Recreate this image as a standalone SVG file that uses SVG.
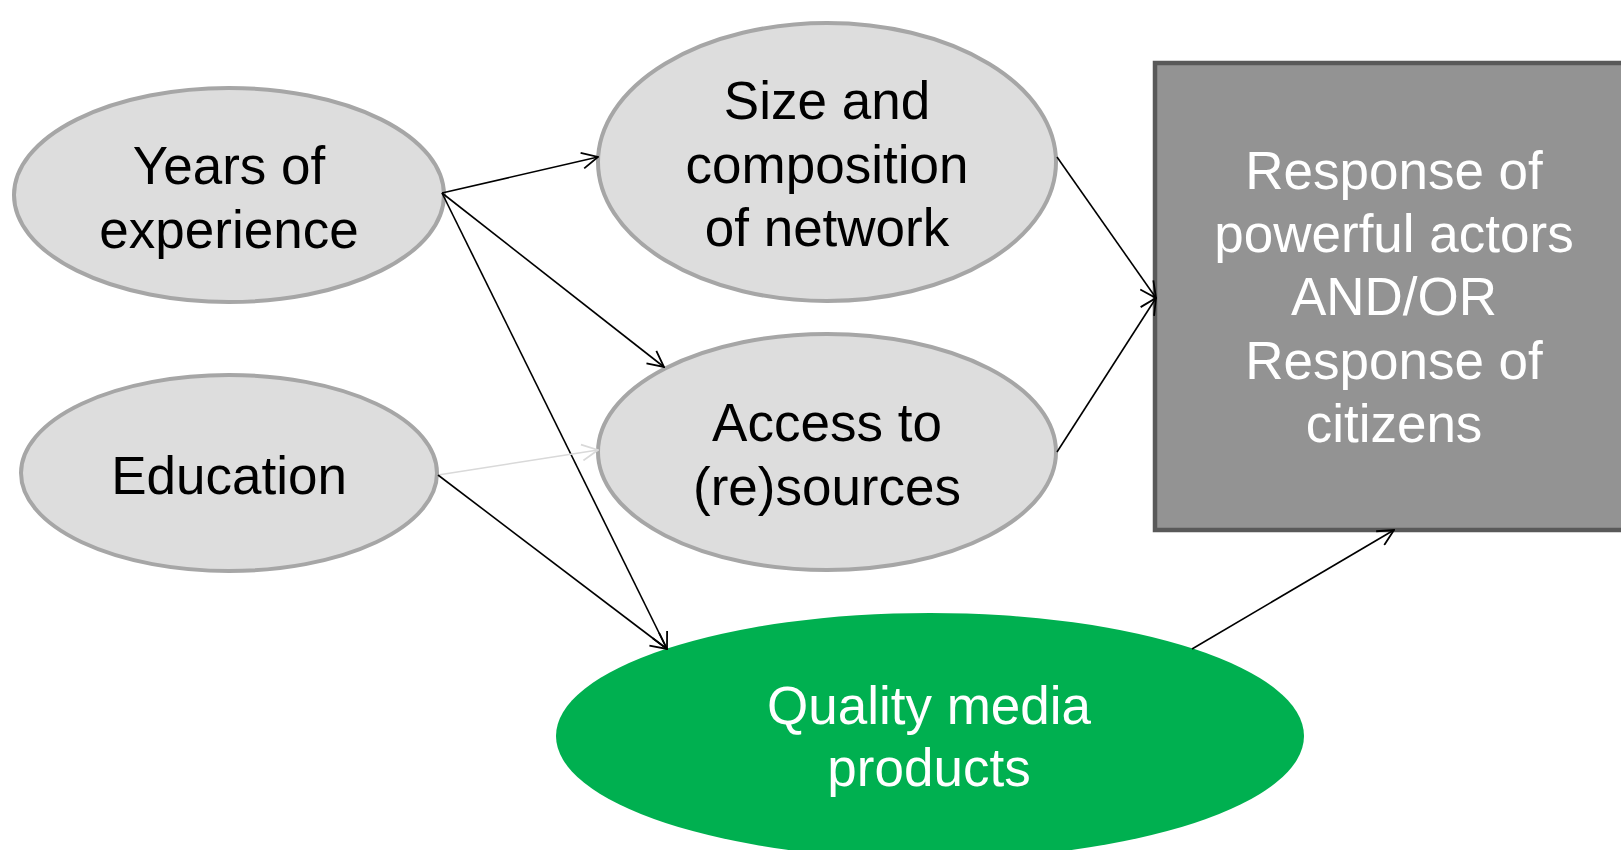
<svg xmlns="http://www.w3.org/2000/svg" width="1621" height="850" viewBox="0 0 1621 850">
  <style>
    .oval { fill: #dddddd; stroke: #a6a6a6; stroke-width: 4; }
    .dark { font-family: "Liberation Sans", Arial, sans-serif; font-size: 53px; fill: #000000; text-anchor: middle; }
    .light { font-family: "Liberation Sans", Arial, sans-serif; font-size: 53px; fill: #ffffff; text-anchor: middle; }
    .link { stroke: #000000; stroke-width: 1.6; fill: none; marker-end: url(#open); }
    .faint { stroke: #d9d9d9; stroke-width: 1.6; fill: none; marker-end: url(#openFaint); }
  </style>
  <defs>
    <marker id="open" viewBox="0 0 18 18" refX="17" refY="9" markerWidth="18" markerHeight="18" markerUnits="userSpaceOnUse" orient="auto">
      <path d="M1,1 L17,9 L1,17" fill="none" stroke="#000000" stroke-width="1.8"/>
    </marker>
    <marker id="openFaint" viewBox="0 0 18 18" refX="17" refY="9" markerWidth="18" markerHeight="18" markerUnits="userSpaceOnUse" orient="auto">
      <path d="M1,1 L17,9 L1,17" fill="none" stroke="#d9d9d9" stroke-width="1.8"/>
    </marker>
  </defs>

  <rect width="1621" height="850" fill="#ffffff"/>

  <g id="outcome">
    <rect x="1155" y="63" width="480" height="467" fill="#939393" stroke="#595959" stroke-width="4.5"/>
    <text class="light" x="1394" y="189">Response of</text>
    <text class="light" x="1394" y="252">powerful actors</text>
    <text class="light" x="1394" y="315">AND/OR</text>
    <text class="light" x="1394" y="379">Response of</text>
    <text class="light" x="1394" y="442">citizens</text>
  </g>

  <g id="experience">
    <ellipse class="oval" cx="229" cy="195" rx="215" ry="107"/>
    <text class="dark" x="229" y="184">Years of</text>
    <text class="dark" x="229" y="248">experience</text>
  </g>

  <g id="education">
    <ellipse class="oval" cx="229" cy="473" rx="208" ry="98"/>
    <text class="dark" x="229" y="494">Education</text>
  </g>

  <g id="network">
    <ellipse class="oval" cx="827" cy="162" rx="229" ry="139"/>
    <text class="dark" x="827" y="119">Size and</text>
    <text class="dark" x="827" y="183">composition</text>
    <text class="dark" x="827" y="246">of network</text>
  </g>

  <g id="resources">
    <ellipse class="oval" cx="827" cy="452" rx="229" ry="118"/>
    <text class="dark" x="827" y="441">Access to</text>
    <text class="dark" x="827" y="505">(re)sources</text>
  </g>

  <g id="quality">
    <ellipse cx="930" cy="736" rx="374" ry="123" fill="#00b050"/>
    <text class="light" x="929" y="724">Quality media</text>
    <text class="light" x="929" y="786">products</text>
  </g>

  <g id="connectors">
    <line class="link" x1="442" y1="193" x2="598" y2="157"/>
    <line class="link" x1="442" y1="193" x2="664" y2="367"/>
    <line class="link" x1="442" y1="193" x2="667" y2="649"/>
    <line class="faint" x1="438" y1="475" x2="598" y2="450"/>
    <line class="link" x1="438" y1="475" x2="667" y2="649"/>
    <line class="link" x1="1057" y1="157" x2="1156" y2="298"/>
    <line class="link" x1="1057" y1="452" x2="1156" y2="298"/>
    <line class="link" x1="1192" y1="649" x2="1394" y2="530"/>
  </g>
</svg>
